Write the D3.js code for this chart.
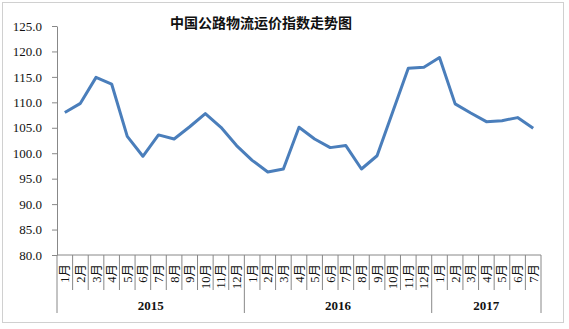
<!DOCTYPE html>
<html>
<head>
<meta charset="utf-8">
<script src="https://cdn.jsdelivr.net/npm/d3@7"></script>
<style>
  body { margin: 0; background: #fff; }
</style>
</head>
<body>
<div id="chart"></div>
<script>
const title = "中国公路物流运价指数走势图";
const years = ["2015", "2016", "2017"];
const monthsPerYear = [12, 12, 7];
const values = [
  108.0, 109.8, 114.9, 113.6, 103.3, 99.4, 103.6, 102.8, 105.2, 107.8, 105.1, 101.5,
  98.6, 96.3, 96.9, 105.1, 102.8, 101.1, 101.5, 96.9, 99.5, 108.1, 116.7, 116.9,
  118.8, 109.7, 107.9, 106.2, 106.4, 107.0, 104.9
];
const yTicks = [80, 85, 90, 95, 100, 105, 110, 115, 120, 125];

const width = 569, height = 329;
const margin = { top: 26, right: 28, bottom: 74, left: 57 };

// flat list of category labels
let cats = [];
years.forEach(function(y, yi) {
  for (let m = 1; m <= monthsPerYear[yi]; m++) {
    cats.push({ year: y, label: m + "月", key: y + "-" + m });
  }
});

let svg = d3.select("#chart").append("svg")
  .attr("width", width)
  .attr("height", height);

// outer frame
svg.append("rect")
  .attr("x", 2.5).attr("y", 2.5)
  .attr("width", 561).attr("height", 320)
  .attr("fill", "#fff")
  .attr("stroke", "#d0d0d0");

let x = d3.scaleBand()
  .domain(cats.map(d => d.key))
  .range([margin.left, width - margin.right])
  .padding(0);

let y = d3.scaleLinear()
  .domain([80, 125])
  .range([height - margin.bottom, margin.top]);

// title
svg.append("text")
  .attr("x", 261).attr("y", 28)
  .attr("text-anchor", "middle")
  .style("font-family", "'Noto Sans CJK SC', sans-serif")
  .style("font-weight", "bold")
  .style("font-size", "14px")
  .attr("fill", "#111")
  .text(title);

// y axis
let yAxis = svg.append("g")
  .attr("transform", "translate(" + margin.left + ",0)")
  .call(d3.axisLeft(y).tickValues(yTicks).tickSize(5).tickSizeOuter(0)
    .tickFormat(d3.format(".1f")));
yAxis.select(".domain").attr("stroke", "#888");
yAxis.selectAll(".tick line").attr("stroke", "#888");
yAxis.selectAll(".tick text")
  .attr("x", -15)
  .style("font-family", "'Liberation Serif', serif")
  .style("font-size", "13px")
  .attr("fill", "#111");

// x axis: baseline + category cells
let x0 = margin.left, x1 = width - margin.right, yb = y(80);
svg.append("line")
  .attr("x1", x0).attr("x2", x1)
  .attr("y1", yb).attr("y2", yb)
  .attr("stroke", "#888");

let sepMonth = yb + 35, sepYear = yb + 58;
let boundaries = [0];
monthsPerYear.reduce(function(acc, n) { boundaries.push(acc + n); return acc + n; }, 0);

cats.forEach(function(d, i) {
  let xl = x(d.key);
  let isYear = boundaries.indexOf(i) >= 0;
  svg.append("line")
    .attr("x1", xl).attr("x2", xl)
    .attr("y1", yb).attr("y2", isYear ? sepYear : sepMonth)
    .attr("stroke", "#888");
});
svg.append("line")
  .attr("x1", x1).attr("x2", x1)
  .attr("y1", yb).attr("y2", sepYear)
  .attr("stroke", "#888");

// month labels (rotated, reading upward)
svg.append("g").selectAll("text")
  .data(cats)
  .enter().append("text")
  .attr("transform", d => "translate(" + (x(d.key) + x.bandwidth() / 2 + 4.5) + "," + (yb + 9) + ") rotate(-90)")
  .attr("text-anchor", "end")
  .style("font-family", "'Liberation Serif', 'Noto Sans CJK SC', serif")
  .style("font-size", "12.5px")
  .attr("fill", "#111")
  .text(d => d.label);

// year labels
years.forEach(function(yr, yi) {
  let a = x(cats[boundaries[yi]].key);
  let b = yi + 1 < years.length ? x(cats[boundaries[yi + 1]].key) : x1;
  svg.append("text")
    .attr("x", (a + b) / 2)
    .attr("y", yb + 55)
    .attr("text-anchor", "middle")
    .style("font-family", "'Liberation Serif', serif")
    .style("font-weight", "bold")
    .style("font-size", "13px")
    .attr("fill", "#111")
    .text(yr);
});

// line
let line = d3.line()
  .x((d, i) => x(cats[i].key) + x.bandwidth() / 2)
  .y(d => y(d));

svg.append("path")
  .datum(values)
  .attr("d", line)
  .attr("fill", "none")
  .attr("stroke", "#4a7ebb")
  .attr("stroke-width", 3)
  .attr("stroke-linejoin", "round");
</script>
</body>
</html>
